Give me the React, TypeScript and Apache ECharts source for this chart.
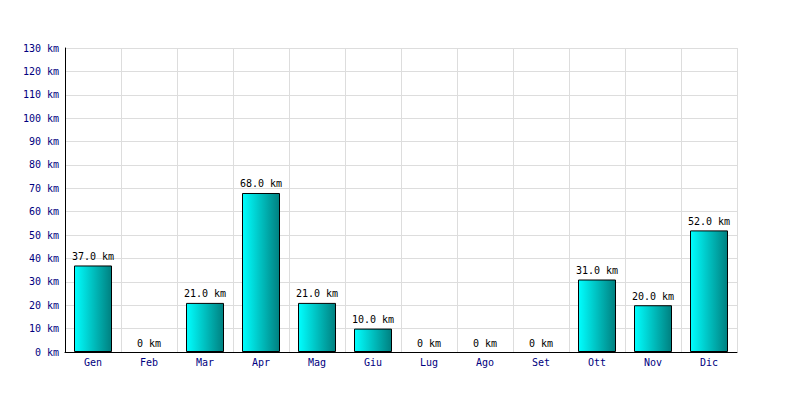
import React, { useEffect, useRef } from "react";
import * as echarts from "echarts";

const months = ["Gen", "Feb", "Mar", "Apr", "Mag", "Giu", "Lug", "Ago", "Set", "Ott", "Nov", "Dic"];
const distances = [37, 0, 21, 68, 21, 10, 0, 0, 0, 31, 20, 52];
const yMax = 130;
const yStep = 10;

export default function App() {
  const ref = useRef<HTMLDivElement>(null);
  useEffect(() => {
    const chart = echarts.init(ref.current!, null, { renderer: "svg" });
    const font = "DejaVu Sans Mono";
    chart.setOption({
      animation: false,
      backgroundColor: "#ffffff",
      grid: { left: 65, right: 63, top: 48, bottom: 48 },
      xAxis: {
        type: "category",
        data: months,
        axisLine: { show: true, lineStyle: { color: "#000", width: 1 } },
        axisTick: { show: false },
        axisLabel: { color: "#000080", fontFamily: font, fontSize: 10, margin: 5 },
        splitLine: { show: true, lineStyle: { color: "#dddddd", width: 1 } },
        boundaryGap: true,
      },
      yAxis: {
        type: "value",
        min: 0,
        max: yMax,
        interval: yStep,
        axisLine: { show: true, lineStyle: { color: "#000", width: 1 } },
        axisTick: { show: false },
        axisLabel: {
          color: "#000080",
          fontFamily: font,
          fontSize: 10,
          margin: 6,
          formatter: (v: number) => `${v} km`,
        },
        splitLine: { show: true, lineStyle: { color: "#dddddd", width: 1 } },
      },
      series: [
        {
          type: "bar",
          data: distances.map((v) =>
            v === 0 ? { value: v, itemStyle: { borderWidth: 0, color: "transparent" } } : v
          ),
          barWidth: 38,
          itemStyle: {
            color: new echarts.graphic.LinearGradient(0, 0, 1, 0, [
              { offset: 0, color: "#00ffff" },
              { offset: 1, color: "#008080" },
            ]),
            borderColor: "#000",
            borderWidth: 1,
          },
          label: {
            show: true,
            position: "top",
            distance: 4,
            color: "#000",
            fontFamily: font,
            fontSize: 10,
            formatter: (p: any) => (p.value === 0 ? "0 km" : `${p.value.toFixed(1)} km`),
          },
        },
      ],
    });
    return () => chart.dispose();
  }, []);
  return <div ref={ref} style={{ width: 800, height: 400, position: "absolute", left: 0, top: 0 }} />;
}
